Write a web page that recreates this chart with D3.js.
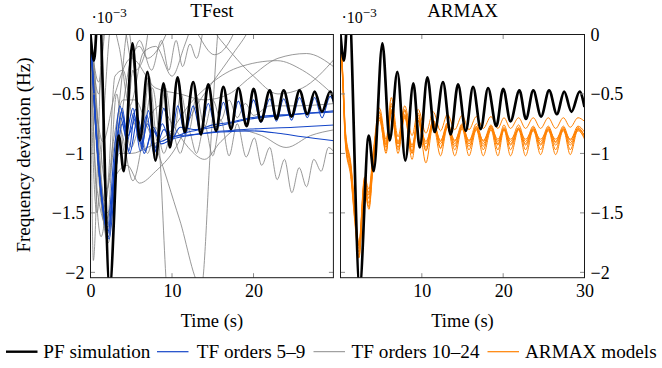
<!DOCTYPE html>
<html><head><meta charset="utf-8">
<script src="https://cdn.jsdelivr.net/npm/d3@7/dist/d3.min.js"></script>
<style>body{margin:0;background:#fff}svg{display:block}text{font-family:"Liberation Serif","Times New Roman","DejaVu Serif",serif;fill:#000}</style>
</head><body><svg id="c" width="662" height="368"></svg>
<script>
// ---------- data ----------
const panelTitles = ["TFest", "ARMAX"];
const yTicks = [0, -0.5, -1, -1.5, -2];
const xTicksLeft = [0, 10, 20];
const xTicksRight = [10, 20, 30];
const legendLabels = ["PF simulation", "TF orders 5\u20139", "TF orders 10\u201324", "ARMAX models"];

// PF simulation (time s, deviation ·1e-3 Hz) — extrema
const pfSim = [[0,0],[0.43,-0.22],[1.0,0.3],[2.36,-2.12],[3.47,-0.85],[4.08,-1.15],[5.15,-0.075],[6.05,-0.89],[6.99,-0.315],[7.97,-1.06],[8.96,-0.41],[9.74,-0.95],[10.68,-0.36],[11.58,-0.82],[12.6,-0.40],[13.55,-0.84],[14.45,-0.42],[15.4,-0.81],[16.3,-0.44],[17.25,-0.795],[18.14,-0.45],[19.16,-0.77],[20.0,-0.456],[20.9,-0.73],[22.0,-0.47],[22.8,-0.71],[23.7,-0.47],[24.66,-0.69],[25.65,-0.47],[26.6,-0.67],[27.5,-0.48],[28.4,-0.65],[29.4,-0.48],[30,-0.61]];

// TF orders 5–9
const tf5 = [[0,0],[0.7,-0.8],[1.5,-1.42],[2.2,-1.7],[3.0,-1.1],[3.9,-0.62],[4.7,-0.98],[5.5,-0.63],[6.3,-0.95],[7.1,-0.64],[8.0,-0.98],[9.0,-0.62],[9.9,-0.88],[10.7,-0.6],[11.6,-0.84],[12.6,-0.6],[13.5,-0.82],[14.45,-0.58],[15.4,-0.8],[16.3,-0.57],[17.25,-0.78],[18.14,-0.56],[19.1,-0.76],[20,-0.55],[20.9,-0.74],[22,-0.54],[22.8,-0.73],[23.7,-0.54],[24.66,-0.72],[25.65,-0.53],[26.6,-0.7],[27.5,-0.53],[28.4,-0.7],[29.4,-0.52],[30,-0.6]];
const tf6 = [[0,0],[0.6,-0.75],[1.4,-1.4],[2.1,-1.68],[2.9,-1.2],[3.7,-0.7],[4.5,-0.9],[5.3,-0.66],[6.1,-0.98],[7,-0.75],[8,-0.95],[9,-0.8],[10,-0.86],[12,-0.82],[15,-0.78],[19.6,-0.71],[24,-0.68],[27,-0.66],[30,-0.64]];
const tf7 = [[0,0],[0.8,-0.95],[1.6,-1.5],[2.3,-1.72],[3.1,-1.15],[3.9,-0.75],[4.8,-1.0],[5.8,-0.7],[6.7,-0.98],[7.7,-0.78],[8.7,-0.92],[10,-0.88],[12,-0.85],[15,-0.82],[19.6,-0.795],[25,-0.78],[30,-0.76]];
const tf8 = [[0,0],[0.7,-0.85],[1.5,-1.45],[2.2,-1.65],[3.0,-1.05],[3.8,-0.65],[4.6,-0.85],[5.6,-0.7],[6.6,-1.0],[7.6,-0.8],[8.6,-0.9],[10,-0.86],[13,-0.84],[16,-0.82],[19.6,-0.81],[23,-0.83],[26,-0.86],[30,-0.894]];
const tf9 = [[0,0],[0.6,-0.7],[1.4,-1.38],[2.1,-1.62],[2.9,-1.0],[3.6,-0.6],[4.4,-0.82],[5.2,-0.62],[6.0,-0.9],[6.9,-0.68],[7.8,-1.0],[8.8,-0.75],[9.8,-0.9],[11,-0.78],[13,-0.8],[15,-0.76],[17,-0.74],[19.6,-0.70],[25,-0.67],[30,-0.65]];

// TF orders 10–24
const tf10 = [[0,0],[0.35,-1.9],[0.9,-1.0],[1.5,0.15],[2.5,0.5]];
const tf11 = [[0,0],[0.6,-0.6],[1.4,-1.45],[2.2,-1.75],[3.0,-1.0],[3.8,-0.4],[4.6,0.05],[5.5,-0.3],[6.5,-0.2],[7.5,0.3]];
const tf12 = [[0,0],[0.5,-0.3],[1.2,-1.1],[2.0,-1.5],[2.8,-1.35],[3.6,-0.8],[5.2,-1.23],[6.5,-0.85],[7.6,-0.45],[8.4,-0.9],[9.3,-2.1],[9.6,-2.4]];
const tf13 = [[0,0],[0.8,-0.9],[1.8,-1.4],[2.8,-0.9],[4,-0.55],[5.5,-0.55],[6.8,-0.75],[8.2,-0.98],[10.9,-1.55],[13.6,-2.12],[14.7,-0.98],[15.6,0.0],[16.2,0.4]];
const tf14 = [[0,0],[1,-0.4],[2,0.1],[4,0.1],[5,-0.2],[6,-0.05],[7.5,-0.3],[8.7,-0.05],[9.6,-0.3],[10.5,-0.05],[11.3,-0.27],[12.2,-0.08],[13,-0.2],[14,0.15]];
const tf15 = [[0,0],[1,-0.8],[2,-1.3],[3,-0.9],[4,-0.75],[5,-0.95],[6,-0.8],[7,-1.0],[8,-0.78],[9,-1.0],[10,-0.82],[11,-1.0],[12,-0.8],[13,-1.0],[14,-0.76],[15,-1.02],[16,-0.72],[17,-1.02],[18,-0.75],[19.1,-1.03],[20.1,-0.87],[21,-1.1],[22,-0.95],[22.9,-1.22],[23.8,-1.05],[24.7,-1.33],[25.6,-1.12],[26.5,-1.28],[27.4,-1.05],[28.3,-1.15],[29.2,-0.95],[30,-1.0]];
const tf16 = [[0,0],[1,-1.2],[2.2,-1.7],[3.5,-1.0],[5,-1.0],[7,-0.95],[10,-0.8],[12,-0.6],[14.3,-0.44],[18,-0.28],[22.9,-0.22],[26,-0.3],[30,-0.52]];
const tf17 = [[0,0],[1.5,-0.9],[3,-0.5],[5,-0.2],[8,-0.45],[11,-0.5],[14,-0.55],[17,-0.5],[19.6,-0.36],[23,-0.2],[26.5,-0.16],[30,-0.28]];
const tf18 = [[0,0],[0.4,0.3],[8,0.8],[11,0.3],[13.2,0],[15.2,-0.17],[17.5,0],[19,0.3],[22,0.8]];
const tf19 = [[0,0],[1,-1.0],[2,-1.55],[3,-1.2],[4.5,-1.1],[6,-1.25],[8,-1.15],[10.2,-0.98],[13,-0.6],[15,-0.4],[17.5,-0.16],[19.5,0.05],[21,0.3]];
const tf20 = [[0,0],[1,-0.5],[2,0.3],[12,0.3],[16,-0.05],[20,-0.35],[23,-0.5],[26,-0.45],[30,-0.2]];
const tf21 = [[0,0],[0.8,-1.3],[2,-1.6],[3.2,-0.5],[4.2,-1.0],[5.2,-0.3],[6.2,-0.95],[7.2,-0.35],[8.2,-0.9],[9.2,-0.45],[10.2,-0.85],[11.1,-0.5],[12.1,-0.8],[13,-0.52],[14,-0.78],[15,-0.55],[16,-0.72],[17,-0.55],[18,-0.7],[19,-0.58],[20,-0.68],[22,-0.6],[25,-0.6],[30,-0.58]];
const tf22 = [[0,0],[0.3,-1.0],[0.8,-1.5],[1.6,-0.7],[2.6,0.1],[3.5,-0.1],[4.8,-0.6],[6.5,-0.15],[8,-0.1],[10,-0.35],[11.5,-0.1],[13,0.2]];
const tf23 = [[0,0],[0.6,-1.2],[1.3,-1.7],[2.2,-1.2],[3,-0.35],[4,-0.3],[5,-0.65],[6.2,-0.85],[7.2,-0.7],[8.5,-0.6],[10,-0.75],[12,-0.95],[14,-1.05],[16,-0.9],[18,-0.8],[21,-0.85],[24,-0.95],[27,-0.85],[30,-0.8]];
const tf24 = [[0,0],[0.5,-0.5],[1.2,-1.3],[2.0,-1.65],[3.0,-1.2],[4.0,-0.6],[5.0,-0.2],[6.0,-0.1],[7.0,-0.2],[8.5,-0.1],[10,0.1],[14,0.4]];

// ARMAX models: shared time points, one value list per model
const armaxTime = [0,0.3,0.6,1.3,1.75,2.27,2.95,3.5,4.0,4.8,5.6,6.25,7.07,7.9,8.8,9.55,10.5,11.4,12.3,13.15,14.05,14.95,15.8,16.7,17.55,18.5,19.35,20.1,20.9,21.9,22.75,23.7,24.6,25.55,26.45,27.4,28.25,29.2,30];
const armaxA = [0,-0.35,-0.8,-1.1,-1.45,-1.75,-1.2,-1.3,-1.0,-0.62,-0.88,-0.53,-0.86,-0.6,-0.85,-0.63,-0.83,-0.65,-0.81,-0.67,-0.80,-0.68,-0.80,-0.69,-0.79,-0.69,-0.79,-0.70,-0.79,-0.70,-0.79,-0.70,-0.79,-0.70,-0.79,-0.70,-0.78,-0.70,-0.73];
const armaxB = [0,-0.4,-0.85,-1.15,-1.5,-1.8,-1.25,-1.38,-1.05,-0.66,-0.92,-0.6,-0.92,-0.64,-0.95,-0.68,-0.92,-0.72,-0.9,-0.74,-0.9,-0.75,-0.9,-0.75,-0.9,-0.76,-0.9,-0.76,-0.9,-0.76,-0.9,-0.77,-0.9,-0.77,-0.9,-0.77,-0.89,-0.77,-0.82];
const armaxC = [0,-0.42,-0.88,-1.18,-1.52,-1.83,-1.28,-1.42,-1.08,-0.68,-0.95,-0.63,-0.95,-0.67,-0.98,-0.7,-0.95,-0.74,-0.92,-0.76,-0.92,-0.77,-0.92,-0.78,-0.92,-0.78,-0.92,-0.79,-0.92,-0.79,-0.92,-0.79,-0.92,-0.79,-0.91,-0.79,-0.91,-0.79,-0.85];
const armaxD = [0,-0.38,-0.83,-1.13,-1.48,-1.78,-1.22,-1.35,-1.02,-0.7,-0.9,-0.65,-0.9,-0.69,-0.93,-0.72,-0.9,-0.75,-0.89,-0.77,-0.89,-0.78,-0.89,-0.79,-0.89,-0.79,-0.88,-0.80,-0.88,-0.80,-0.88,-0.80,-0.88,-0.80,-0.88,-0.80,-0.88,-0.80,-0.84];
const armaxE = [0,-0.44,-0.9,-1.2,-1.55,-1.86,-1.3,-1.45,-1.1,-0.72,-0.98,-0.66,-0.97,-0.7,-1.0,-0.73,-0.97,-0.76,-0.95,-0.78,-0.94,-0.79,-0.94,-0.80,-0.94,-0.80,-0.93,-0.80,-0.93,-0.80,-0.93,-0.81,-0.93,-0.81,-0.93,-0.81,-0.93,-0.81,-0.87];
const armaxF = [0,-0.45,-0.92,-1.22,-1.57,-1.88,-1.32,-1.47,-1.12,-0.7,-1.0,-0.64,-1.0,-0.68,-1.05,-0.72,-1.08,-0.76,-1.02,-0.78,-1.02,-0.79,-1.02,-0.8,-1.02,-0.8,-1.02,-0.8,-1.02,-0.8,-1.02,-0.8,-1.01,-0.8,-1.01,-0.8,-1.01,-0.8,-0.88];
const armaxG = [0,-0.37,-0.82,-1.12,-1.47,-1.77,-1.23,-1.33,-1.03,-0.65,-0.93,-0.58,-0.92,-0.63,-1.0,-0.66,-0.98,-0.72,-0.96,-0.75,-0.97,-0.76,-0.97,-0.77,-0.97,-0.77,-0.97,-0.78,-0.97,-0.78,-0.97,-0.78,-0.97,-0.78,-0.97,-0.78,-0.97,-0.78,-0.86];

// ---------- drawing ----------
const C = {pf:"#000000", blue:"#1546c8", grey:"#7f7f7f", orange:"#ff8000"};
const FONT = '"Liberation Serif","Times New Roman","DejaVu Serif",serif';
const svg = d3.select("#c");
const yTop = 34.5, yBot = 277.7;
const y = d3.scaleLinear().domain([-2.045, 0]).range([yBot, yTop]);

const blueSeries = [tf5, tf6, tf7, tf8, tf9];
const greySeries = [tf10, tf11, tf12, tf13, tf14, tf15, tf16, tf17, tf18, tf19, tf20, tf21, tf22, tf23, tf24];
const armaxSeries = [armaxA, armaxB, armaxC, armaxD, armaxE, armaxF, armaxG].map(v => armaxTime.map((t, i) => [t, v[i]]));

const defs = svg.append("defs");

function panel(idx, x0, x1, xDomain, xTicks, layers, yLabelSide) {
  const x = d3.scaleLinear().domain(xDomain).range([x0, x1]);
  const g = svg.append("g");
  defs.append("clipPath").attr("id", "clip" + idx)
    .append("rect").attr("x", x0).attr("y", yTop).attr("width", x1 - x0).attr("height", yBot - yTop);
  const line = d3.line().x(d => x(d[0])).y(d => y(d[1])).curve(d3.curveMonotoneX);
  const plot = g.append("g").attr("clip-path", `url(#clip${idx})`);
  layers.forEach(L => {
    plot.append("g").selectAll("path").data(L.data).join("path")
      .attr("d", line).attr("fill", "none").attr("stroke", L.color)
      .attr("stroke-width", L.width).attr("stroke-linejoin", "round");
  });
  const tk = 4.5;
  const tg = g.append("g").attr("stroke", "#8a8a8a").attr("stroke-width", 1);
  yTicks.forEach(v => {
    tg.append("line").attr("x1", x0).attr("x2", x0 + tk).attr("y1", y(v)).attr("y2", y(v));
    tg.append("line").attr("x1", x1).attr("x2", x1 - tk).attr("y1", y(v)).attr("y2", y(v));
  });
  xTicks.forEach(v => {
    tg.append("line").attr("x1", x(v)).attr("x2", x(v)).attr("y1", yBot).attr("y2", yBot - tk);
    tg.append("line").attr("x1", x(v)).attr("x2", x(v)).attr("y1", yTop).attr("y2", yTop + tk);
  });
  g.append("rect").attr("x", x0).attr("y", yTop).attr("width", x1 - x0).attr("height", yBot - yTop)
    .attr("fill", "none").attr("stroke", "#1a1a1a").attr("stroke-width", 1);
  const xa = g.append("g").attr("transform", `translate(0,${yBot})`)
    .call(d3.axisBottom(x).tickValues(xTicks).tickSize(0).tickPadding(7).tickFormat(d3.format("d")));
  xa.select(".domain").remove();
  xa.attr("font-family", FONT).attr("font-size", 18);
  xa.selectAll("text").attr("fill", "#000");
  const fmt = v => v === 0 ? "0" : "\u2212" + String(Math.abs(v));
  const ya = yLabelSide === "left"
    ? d3.axisLeft(y).tickValues(yTicks).tickSize(0).tickPadding(6).tickFormat(fmt)
    : d3.axisRight(y).tickValues(yTicks).tickSize(0).tickPadding(6).tickFormat(fmt);
  const yg = g.append("g").attr("transform", `translate(${yLabelSide === "left" ? x0 : x1},0)`).call(ya);
  yg.select(".domain").remove();
  yg.attr("font-family", FONT).attr("font-size", 18);
  yg.selectAll("text").attr("fill", "#000");
  const ex = g.append("text").attr("x", x0 + 1).attr("y", 23).attr("font-size", 16);
  ex.append("tspan").text("\u00b710");
  ex.append("tspan").attr("dy", -6).attr("font-size", 13).text("\u22123");
  g.append("text").attr("x", (x0 + x1) / 2).attr("y", 17).attr("text-anchor", "middle")
    .attr("font-size", 19).text(panelTitles[idx]);
  g.append("text").attr("x", (x0 + x1) / 2).attr("y", 327).attr("text-anchor", "middle")
    .attr("font-size", 18.5).text("Time (s)");
}

panel(0, 90.5, 333.4, [0, 29.8], xTicksLeft, [
  {data: greySeries, color: C.grey, width: 0.8},
  {data: blueSeries, color: C.blue, width: 1.1},
  {data: [pfSim], color: C.pf, width: 2.7}
], "left");

panel(1, 340.5, 584.5, [0, 30], xTicksRight, [
  {data: armaxSeries, color: C.orange, width: 1.0},
  {data: [pfSim], color: C.pf, width: 2.7}
], "right");

svg.append("text").attr("transform", "translate(29.5,155) rotate(-90)").attr("text-anchor", "middle")
  .attr("font-size", 19).text("Frequency deviation (Hz)");

const legendColors = [C.pf, C.blue, C.grey, C.orange];
const legendWidths = [2.4, 1.2, 0.9, 1.2];
const legendLineX = [6, 157, 313.5, 487.5];
const legendTextX = [43.3, 196.7, 351.6, 525];
const ly = 351.7;
const lg = svg.append("g");
legendLabels.forEach((lab, i) => {
  lg.append("line").attr("x1", legendLineX[i]).attr("x2", legendLineX[i] + 31.5).attr("y1", ly).attr("y2", ly)
    .attr("stroke", legendColors[i]).attr("stroke-width", legendWidths[i]);
  lg.append("text").attr("x", legendTextX[i]).attr("y", 358.3).attr("font-size", 19.2).text(lab);
});
</script></body></html>
